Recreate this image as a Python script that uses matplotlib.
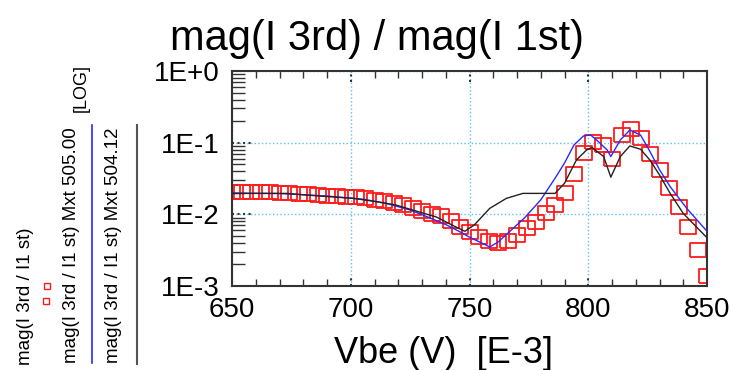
import numpy as np
import matplotlib
matplotlib.use("Agg")
import matplotlib.pyplot as plt
from matplotlib.ticker import FixedLocator, MultipleLocator, LogLocator, NullFormatter
from matplotlib.lines import Line2D

plt.rcParams['font.family'] = ['Liberation Sans', 'DejaVu Sans']

# measured points (red squares)
vbe_meas = [650, 654, 658, 662, 666, 670, 674, 678, 682, 686, 690, 694, 698, 702,
            706, 710, 714, 718, 722, 726, 730, 734, 738, 742, 746, 750, 754, 758,
            762, 766, 770, 774, 778, 782, 786, 790, 794, 798, 802, 806, 810, 814,
            818, 822, 826, 830, 834, 838, 842, 846, 850]
ratio_meas = [0.0205, 0.0205, 0.0204, 0.0204, 0.0203, 0.0200, 0.0197, 0.0194, 0.0190,
              0.0187, 0.0183, 0.0179, 0.0176, 0.0172, 0.0167, 0.0160, 0.0152, 0.0144,
              0.0134, 0.0124, 0.0113, 0.0102, 0.0094, 0.0082, 0.0066, 0.0056, 0.0048,
              0.0042, 0.0040, 0.0042, 0.0051, 0.0064, 0.0079, 0.0103, 0.0134, 0.0196,
              0.037, 0.072, 0.103, 0.093, 0.059, 0.128, 0.154, 0.115, 0.069, 0.042,
              0.023, 0.0128, 0.0067, 0.0032, 0.0014]

# model Mxt 505.00 (blue)
vbe_505 = [650, 670, 690, 705, 715, 725, 732, 740, 746, 750, 755, 758.5, 762, 766,
           773, 780, 786, 790, 794, 798, 801, 803.5, 808, 809.5, 813.5, 817.5, 822,
           826, 830, 834.5, 841.5, 850]
ratio_505 = [0.0198, 0.0195, 0.0180, 0.0163, 0.0142, 0.0115, 0.0093, 0.0072, 0.0057,
             0.0048, 0.0040, 0.0035, 0.0041, 0.0054, 0.0088, 0.0159, 0.0318, 0.052,
             0.093, 0.124, 0.128, 0.109, 0.079, 0.064, 0.109, 0.150, 0.128, 0.075,
             0.042, 0.0243, 0.0121, 0.0058]

# model Mxt 504.12 (black)
vbe_504 = [650, 673, 687, 701, 711, 719, 730, 736, 743, 748, 752, 758.5, 765.5, 772.5,
           786, 790, 795, 799.3, 801.5, 806.5, 809.5, 813.5, 817.5, 822, 826, 830,
           834.5, 840, 849.5]
ratio_504 = [0.0196, 0.0196, 0.0180, 0.0167, 0.0150, 0.0135, 0.0105, 0.0092, 0.0070,
             0.0058, 0.0071, 0.0121, 0.0167, 0.0196, 0.0196, 0.0271, 0.0573, 0.079,
             0.086, 0.064, 0.033, 0.064, 0.090, 0.081, 0.057, 0.0354, 0.0196, 0.0103,
             0.0049]

W, H = 733, 370
fig = plt.figure(figsize=(W / 100, H / 100), dpi=100)
ax = fig.add_axes([232 / W, 1 - 286 / H, (707 - 232) / W, (286 - 71) / H])

# slightly wide open rectangle, like the stretched squares of the original
rect = [(-1, -0.82), (1, -0.82), (1, 0.82), (-1, 0.82), (-1, -0.82)]
ax.plot(vbe_meas, ratio_meas, ls='none', marker=rect, ms=12, mfc='none',
        mec='#ff1a1a', mew=1.3, zorder=2)
ax.plot(vbe_505, ratio_505, color='#2a2aff', lw=1.0, zorder=3)
ax.plot(vbe_504, ratio_504, color='#222222', lw=1.0, zorder=4)

ax.set_yscale('log')
ax.set_xlim(650, 850)
ax.set_ylim(1e-3, 1)

ax.xaxis.set_major_locator(FixedLocator([650, 700, 750, 800, 850]))
ax.set_xticklabels(['650', '700', '750', '800', '850'])
ax.xaxis.set_minor_locator(MultipleLocator(10))
ax.set_yticks([1e-3, 1e-2, 1e-1, 1])
ax.set_yticklabels(['1E-3', '1E-2', '1E-1', '1E+0'])
ax.yaxis.set_minor_locator(LogLocator(base=10, subs=np.arange(2, 10)))
ax.yaxis.set_minor_formatter(NullFormatter())

ax.tick_params(axis='x', which='both', direction='in', top=True, bottom=True,
               labelsize=20, pad=8, color='#333333')
ax.tick_params(axis='x', which='major', length=0)
ax.tick_params(axis='x', which='minor', length=5, width=1)
ax.tick_params(axis='y', which='both', direction='in', left=True, right=False,
               labelsize=20, pad=9, color='#333333')
ax.tick_params(axis='y', which='major', length=0)
ax.tick_params(axis='y', which='minor', length=9, width=1)

for s in ax.spines.values():
    s.set_color('#333333')
    s.set_linewidth(1.5)

ax.grid(True, which='major', color='#5cc0f5', ls=':', lw=1.0)
# dotted dark stubs at major ticks
for yv in [1e-2, 1e-1]:
    ax.axhline(yv, xmin=0, xmax=0.04, color='#333333', ls=':', lw=1.5, zorder=5)
for xv in [700, 750, 800]:
    ax.axvline(xv, ymin=0, ymax=0.05, color='#333333', ls=':', lw=1.5, zorder=5)
    ax.axvline(xv, ymin=0.95, ymax=1, color='#333333', ls=':', lw=1.5, zorder=5)

fig.text(377 / W, 1 - 50 / H, 'mag(I 3rd) / mag(I 1st)', ha='center', va='baseline',
         fontsize=30)
fig.text(444 / W, 1 - 363 / H, 'Vbe (V)  [E-3]', ha='center', va='baseline',
         fontsize=26)

# left side legend
fig.text(81 / W, 1 - 112 / H, '[LOG]', rotation=90, ha='center', va='bottom',
         fontsize=13)
fig.text(25 / W, 1 - 365 / H, 'mag(I 3rd / I1 st)', rotation=90, ha='center',
         va='bottom', fontsize=13.5)
fig.text(71 / W, 1 - 363 / H, 'mag(I 3rd / I1 st) Mxt 505.00', rotation=90,
         ha='center', va='bottom', fontsize=13.5)
fig.text(113 / W, 1 - 363 / H, 'mag(I 3rd / I1 st) Mxt 504.12', rotation=90,
         ha='center', va='bottom', fontsize=13.5)
fig.add_artist(Line2D([47 / W, 46 / W], [1 - 286 / H, 1 - 301 / H], ls='none',
                      marker='s', ms=5, mfc='none', mec='#ff1a1a', mew=1.0,
                      transform=fig.transFigure))
fig.add_artist(Line2D([92 / W, 92 / W], [1 - 125 / H, 1 - 363 / H], color='#2a2aff',
                      lw=1.2, transform=fig.transFigure))
fig.add_artist(Line2D([137 / W, 137 / W], [1 - 125 / H, 1 - 364 / H], color='#555555',
                      lw=1.5, transform=fig.transFigure))

fig.savefig('out.png', dpi=100)
